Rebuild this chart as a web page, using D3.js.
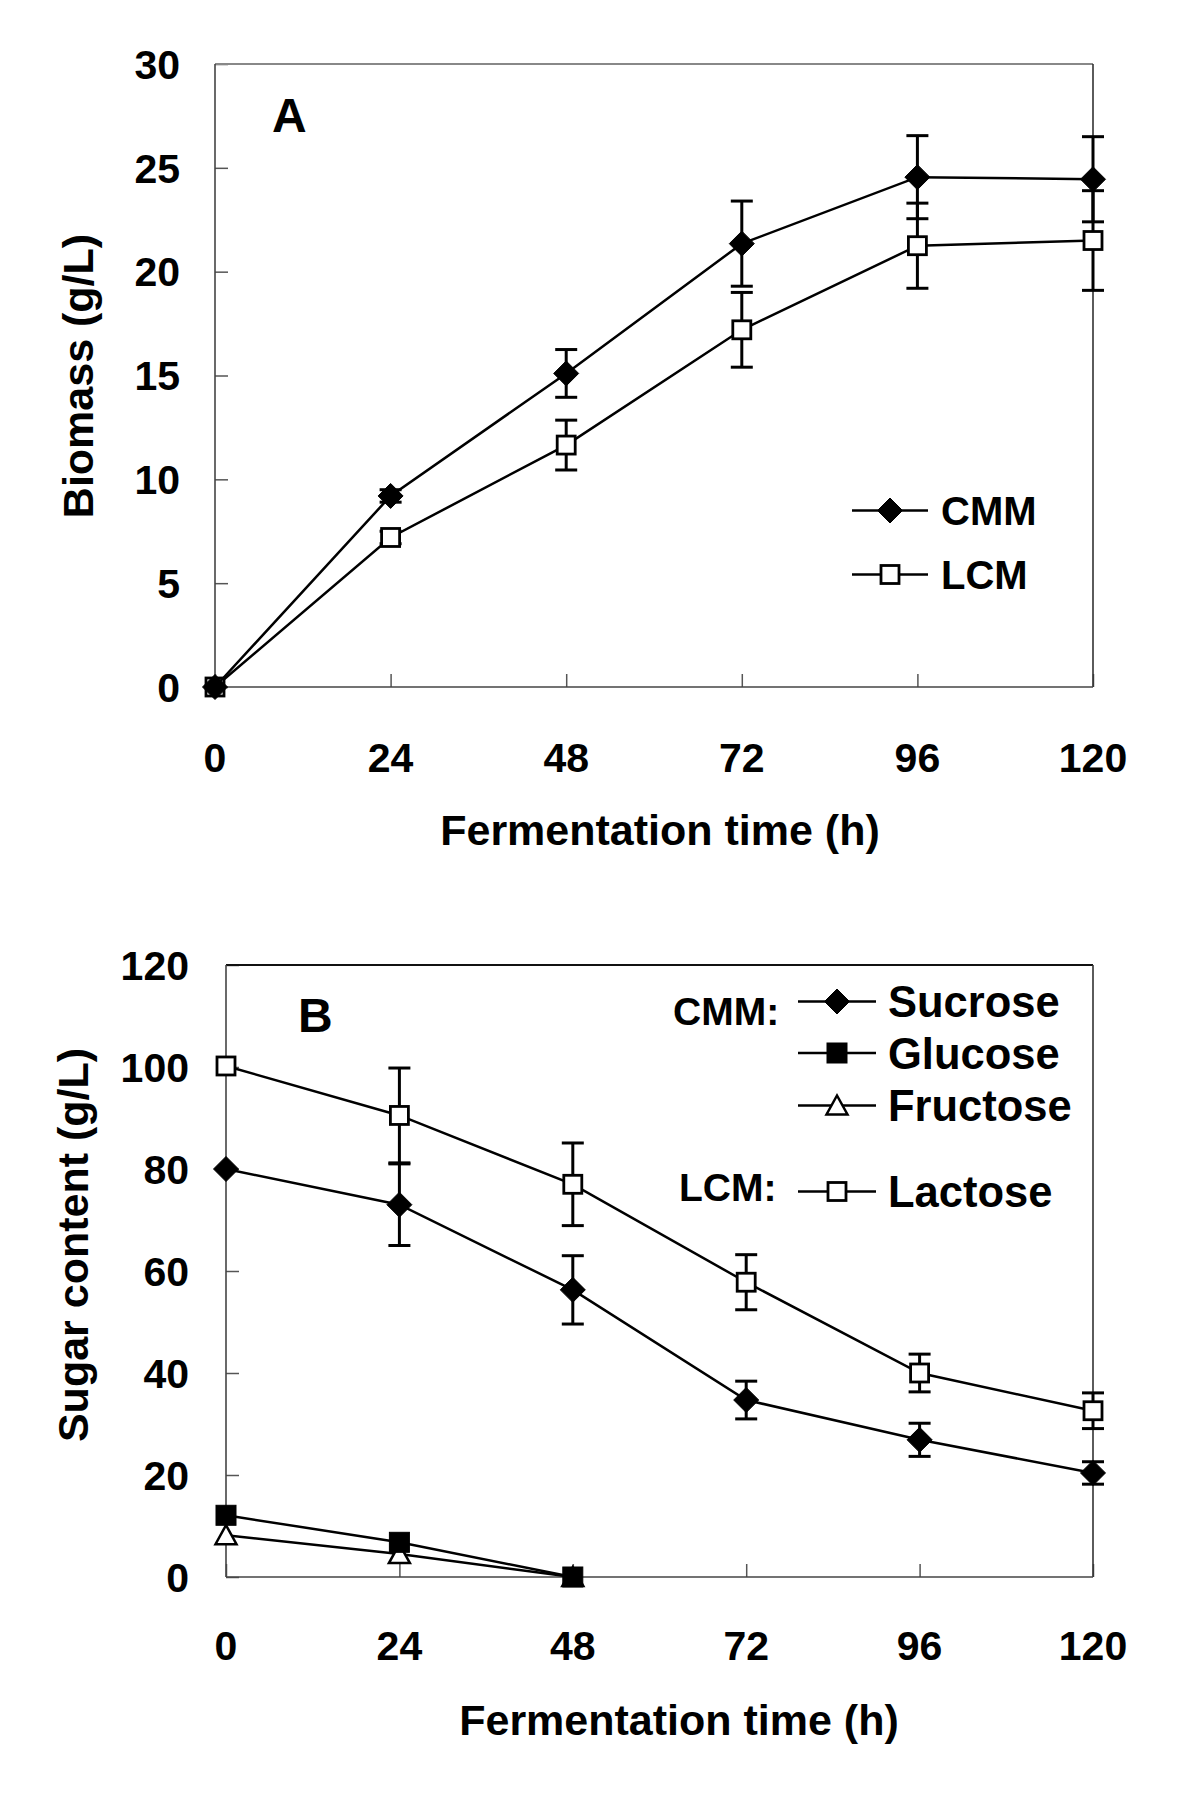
<!DOCTYPE html>
<html>
<head>
<meta charset="utf-8">
<script src="https://cdn.jsdelivr.net/npm/d3@7"></script>
<style>
  html, body { margin: 0; padding: 0; background: #fff; }
  svg { display: block; }
  text { font-family: "Liberation Sans", Arial, Helvetica, sans-serif; font-weight: bold; fill: #000; }
</style>
</head>
<body>
<svg id="chart" width="1200" height="1800"></svg>
<script>
// ---------- data ----------
const hours = [0, 24, 48, 72, 96, 120];
const timeTicks = [0, 24, 48, 72, 96, 120];
const biomassTicks = [0, 5, 10, 15, 20, 25, 30];
const sugarTicks = [0, 20, 40, 60, 80, 100, 120];

// Panel A: biomass (g/L)
const cmmBiomass    = [0, 9.2, 15.1, 21.35, 24.55, 24.45];
const cmmBiomassErr = [0, 0.3, 1.15, 2.05, 2.0, 2.05];
const lcmBiomass    = [0, 7.2, 11.65, 17.2, 21.25, 21.5];
const lcmBiomassErr = [0, 0.3, 1.2, 1.8, 2.05, 2.4];

// Panel B: sugar content (g/L)
const sucrose    = [80, 73, 56.3, 34.7, 26.9, 20.4];
const sucroseErr = [0, 8, 6.7, 3.7, 3.25, 2.2];
const lactose    = [100.2, 90.5, 77, 57.8, 40, 32.6];
const lactoseErr = [0, 9.3, 8.1, 5.4, 3.7, 3.5];
const shortHours = [0, 24, 48];
const glucose    = [12.1, 6.8, 0];
const fructose   = [8.2, 4.5, 0];

// ---------- helpers ----------
const svg = d3.select("#chart");

function zip(xs, ys, es) {
  return xs.map((x, i) => ({ x: x, y: ys[i], e: es ? es[i] : 0 }));
}

function drawMarker(g, type, cx, cy) {
  if (type === "diamond") {
    const r = 12.5;
    g.append("path")
      .attr("d", `M${cx},${cy - r}L${cx + r},${cy}L${cx},${cy + r}L${cx - r},${cy}Z`)
      .attr("fill", "#000").attr("stroke", "#000").attr("stroke-width", 1);
  } else if (type === "openSquare") {
    const s = 18;
    g.append("rect").attr("x", cx - s / 2).attr("y", cy - s / 2)
      .attr("width", s).attr("height", s)
      .attr("fill", "#fff").attr("stroke", "#000").attr("stroke-width", 2.8);
  } else if (type === "filledSquare") {
    const s = 20;
    g.append("rect").attr("x", cx - s / 2).attr("y", cy - s / 2)
      .attr("width", s).attr("height", s)
      .attr("fill", "#000").attr("stroke", "#000").attr("stroke-width", 1);
  } else if (type === "openTriangle") {
    const w = 21, h = 18;
    g.append("path")
      .attr("d", `M${cx},${cy - h / 2 - 1}L${cx + w / 2},${cy + h / 2}L${cx - w / 2},${cy + h / 2}Z`)
      .attr("fill", "#fff").attr("stroke", "#000").attr("stroke-width", 2.5);
  }
}

function drawSeries(g, data, x, y, marker) {
  const line = d3.line().x(d => x(d.x)).y(d => y(d.y));
  g.append("path").datum(data).attr("d", line)
    .attr("fill", "none").attr("stroke", "#000").attr("stroke-width", 2.5);
  // error bars
  const cap = 11;
  data.filter(d => d.e > 0).forEach(d => {
    const cx = x(d.x), y1 = y(d.y + d.e), y2 = y(d.y - d.e);
    g.append("line").attr("x1", cx).attr("x2", cx).attr("y1", y1).attr("y2", y2)
      .attr("stroke", "#000").attr("stroke-width", 3);
    [y1, y2].forEach(yy => {
      g.append("line").attr("x1", cx - cap).attr("x2", cx + cap).attr("y1", yy).attr("y2", yy)
        .attr("stroke", "#000").attr("stroke-width", 3);
    });
  });
  data.forEach(d => drawMarker(g, marker, x(d.x), y(d.y)));
}

function drawFrame(x, y, topColor) {
  const [x0, x1] = x.range();
  const [y0, y1] = y.range();
  const g = svg.append("g");
  // ticks (inward)
  g.append("g").attr("transform", `translate(0,${y0})`)
    .call(d3.axisBottom(x).tickValues(timeTicks).tickSize(-13).tickFormat(""))
    .call(a => a.select(".domain").remove())
    .call(a => a.selectAll(".tick line").attr("stroke", "#555").attr("stroke-width", 1.5));
  g.append("g").attr("transform", `translate(${x0},0)`)
    .call(d3.axisLeft(y).tickValues(y.ticksList).tickSize(-13).tickFormat(""))
    .call(a => a.select(".domain").remove())
    .call(a => a.selectAll(".tick line").attr("stroke", "#555").attr("stroke-width", 1.5));
  // frame
  g.append("line").attr("x1", x0).attr("x2", x1).attr("y1", y1).attr("y2", y1)
    .attr("stroke", topColor).attr("stroke-width", 1.8);
  g.append("line").attr("x1", x1).attr("x2", x1).attr("y1", y1).attr("y2", y0)
    .attr("stroke", "#333").attr("stroke-width", 1.6);
  g.append("line").attr("x1", x0).attr("x2", x0).attr("y1", y1).attr("y2", y0)
    .attr("stroke", "#444").attr("stroke-width", 1.6);
  g.append("line").attr("x1", x0).attr("x2", x1).attr("y1", y0).attr("y2", y0)
    .attr("stroke", "#444").attr("stroke-width", 1.6);
}

function drawTickLabels(x, y, xLabelBase, yLabelRight) {
  const [x0] = x.range();
  const [y0] = y.range();
  const g = svg.append("g");
  g.selectAll("text.xt").data(timeTicks).join("text")
    .attr("x", d => x(d)).attr("y", xLabelBase)
    .attr("text-anchor", "middle").attr("font-size", 41).text(d => d);
  g.selectAll("text.yt").data(y.ticksList).join("text")
    .attr("x", yLabelRight).attr("y", d => y(d)).attr("dy", "0.36em")
    .attr("text-anchor", "end").attr("font-size", 41).text(d => d);
}

function legendEntry(g, marker, lx1, lx2, ly, label, tx, size) {
  g.append("line").attr("x1", lx1).attr("x2", lx2).attr("y1", ly).attr("y2", ly)
    .attr("stroke", "#000").attr("stroke-width", 2.5);
  drawMarker(g, marker, (lx1 + lx2) / 2, ly);
  g.append("text").attr("x", tx).attr("y", ly).attr("dy", "0.36em")
    .attr("font-size", size).text(label);
}

// ---------- Panel A ----------
const xA = d3.scaleLinear().domain([0, 120]).range([215, 1093]);
const yA = d3.scaleLinear().domain([0, 30]).range([687, 64]);
yA.ticksList = biomassTicks;

drawFrame(xA, yA, "#888");
const gA = svg.append("g");
drawSeries(gA, zip(hours, lcmBiomass, lcmBiomassErr), xA, yA, "openSquare");
drawSeries(gA, zip(hours, cmmBiomass, cmmBiomassErr), xA, yA, "diamond");
drawTickLabels(xA, yA, 772, 180);

svg.append("text").attr("x", 272).attr("y", 132).attr("font-size", 48).text("A");
svg.append("text").attr("x", 660).attr("y", 845).attr("text-anchor", "middle")
  .attr("font-size", 43).text("Fermentation time (h)");
svg.append("text").attr("transform", "translate(93,376) rotate(-90)")
  .attr("text-anchor", "middle").attr("font-size", 43).text("Biomass (g/L)");

const legA = svg.append("g");
legendEntry(legA, "diamond", 852, 928, 510.5, "CMM", 941, 40);
legendEntry(legA, "openSquare", 852, 928, 574.5, "LCM", 941, 40);

// ---------- Panel B ----------
const xB = d3.scaleLinear().domain([0, 120]).range([226, 1093]);
const yB = d3.scaleLinear().domain([0, 120]).range([1577, 965]);
yB.ticksList = sugarTicks;

drawFrame(xB, yB, "#111");
const gB = svg.append("g");
drawSeries(gB, zip(hours, lactose, lactoseErr), xB, yB, "openSquare");
drawSeries(gB, zip(hours, sucrose, sucroseErr), xB, yB, "diamond");
drawSeries(gB, zip(shortHours, fructose), xB, yB, "openTriangle");
drawSeries(gB, zip(shortHours, glucose), xB, yB, "filledSquare");
drawTickLabels(xB, yB, 1660, 189);

svg.append("text").attr("x", 298).attr("y", 1032).attr("font-size", 48).text("B");
svg.append("text").attr("x", 679).attr("y", 1735).attr("text-anchor", "middle")
  .attr("font-size", 43).text("Fermentation time (h)");
svg.append("text").attr("transform", "translate(88,1245) rotate(-90)")
  .attr("text-anchor", "middle").attr("font-size", 43).text("Sugar content (g/L)");

const legB = svg.append("g");
legB.append("text").attr("x", 673).attr("y", 1025).attr("font-size", 39).text("CMM:");
legB.append("text").attr("x", 679).attr("y", 1201).attr("font-size", 39).text("LCM:");
legendEntry(legB, "diamond", 798, 876, 1001.5, "Sucrose", 888, 43.5);
legendEntry(legB, "filledSquare", 798, 876, 1053, "Glucose", 888, 43.5);
legendEntry(legB, "openTriangle", 798, 876, 1105.5, "Fructose", 888, 43.5);
legendEntry(legB, "openSquare", 798, 876, 1191.5, "Lactose", 888, 43.5);
</script>
</body>
</html>
